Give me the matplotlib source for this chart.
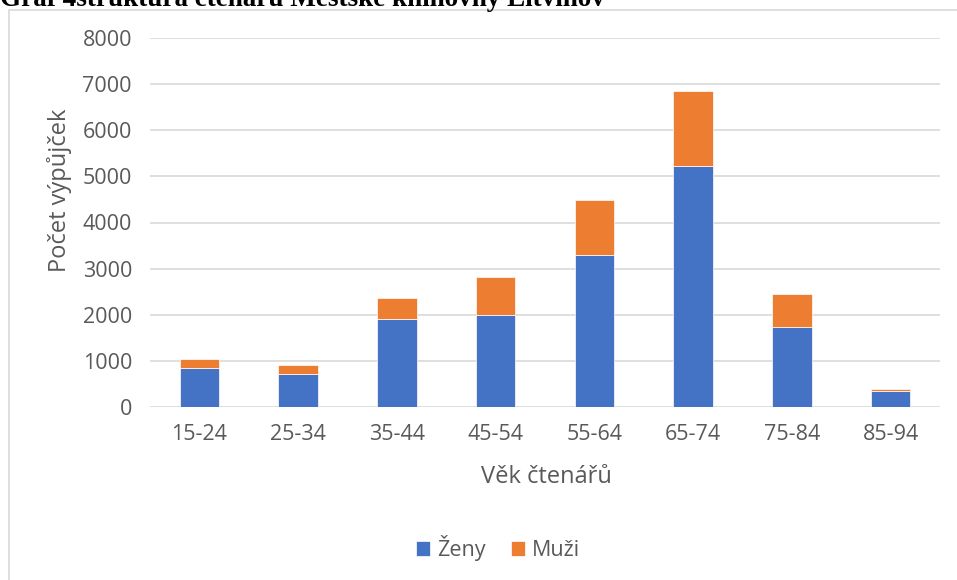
import matplotlib
matplotlib.use("Agg")
import matplotlib.pyplot as plt
from matplotlib.patches import Rectangle
import numpy as np

categories = ["15-24", "25-34", "35-44", "45-54", "55-64", "65-74", "75-84", "85-94"]
zeny = [850, 720, 1910, 2000, 3290, 5230, 1730, 340]
muzi = [200, 180, 460, 820, 1190, 1620, 730, 40]
yticks = [0, 1000, 2000, 3000, 4000, 5000, 6000, 7000, 8000]

plt.rcParams['font.family'] = ['Open Sans', 'DejaVu Sans']

fig = plt.figure(figsize=(9.57, 5.8), dpi=100)
ax = fig.add_axes([150/957, 1-407/580, 790/957, (407-38)/580])

x = np.arange(len(categories))
blue = "#4472C4"
orange = "#ED7D31"
ax.bar(x, zeny, width=0.4, color=blue, label="Ženy", zorder=3,
       edgecolor="white", linewidth=0.5)
ax.bar(x, muzi, width=0.4, bottom=zeny, color=orange, label="Muži", zorder=3,
       edgecolor="white", linewidth=0.5)

ax.set_xlim(-0.5, len(categories) - 0.5)
ax.set_ylim(0, 8000)
ax.set_yticks(yticks)
ax.set_yticklabels([str(v) for v in yticks])
ax.set_xticks(x)
ax.set_xticklabels(categories)
ax.grid(axis='y', color='#D9D9D9', linewidth=1.2, zorder=0)
for s in ax.spines.values():
    s.set_visible(False)
ax.tick_params(axis='both', length=0, labelsize=15.5, colors='#595959')
ax.tick_params(axis='y', pad=13)
ax.tick_params(axis='x', pad=12)
ax.set_xlabel("Věk čtenářů", fontsize=17, color='#595959')
ax.set_ylabel("Počet výpůjček", fontsize=17, color='#595959')
ax.xaxis.set_label_coords(546/957, 1-477/580, transform=fig.transFigure)
ax.xaxis.label.set_va('center')
ax.yaxis.set_label_coords(59/957, 1-190/580, transform=fig.transFigure)
ax.yaxis.label.set_va('center')

leg = ax.legend(loc='center', bbox_to_anchor=(498/957, 1-548/580),
                bbox_transform=fig.transFigure, ncol=2, frameon=False,
                fontsize=15.5, handlelength=0.65, handleheight=0.65,
                handletextpad=0.3, columnspacing=1.2)
for t in leg.get_texts():
    t.set_color('#595959')

# chart border
fig.patches.append(Rectangle((9/957, -0.01), 960/957, 1-10/580 + 0.01, transform=fig.transFigure,
                             fill=False, edgecolor='#D9D9D9', linewidth=1.2))

fig.text(0, 1-6/580, "Graf 4struktura čtenářů Městské knihovny Litvínov",
         fontsize=19.5, fontweight='bold', family=['Liberation Serif'], va='baseline')

fig.savefig("out.png", dpi=100)
